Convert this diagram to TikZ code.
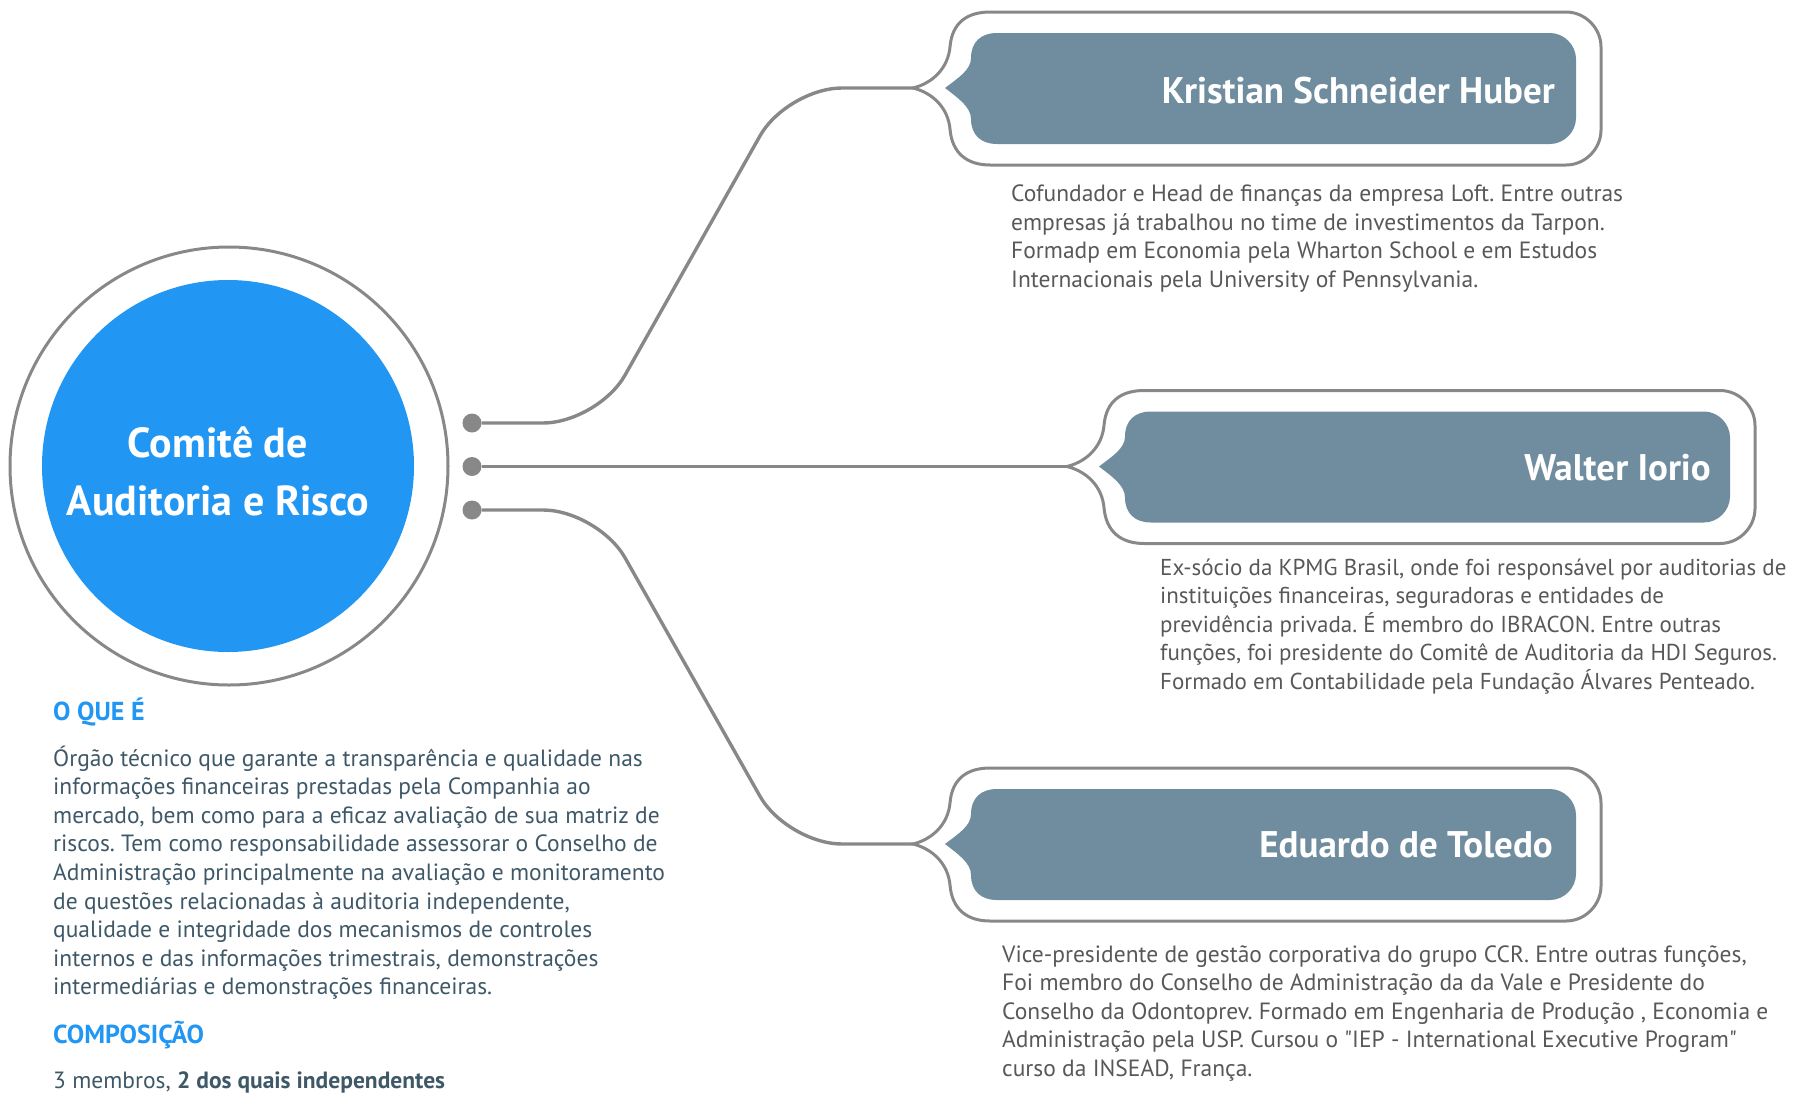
\documentclass[tikz,border=0pt]{standalone}
\usepackage{fontspec}
\setmainfont{PT Sans}[Ligatures=TeXOff]
\usetikzlibrary{positioning}
\frenchspacing

\definecolor{slate}{RGB}{112,141,160}
\definecolor{linegray}{RGB}{136,136,136}
\definecolor{brightblue}{RGB}{33,150,243}
\definecolor{inktext}{RGB}{62,88,104}
\definecolor{greytext}{RGB}{88,88,88}

\newcommand{\descsize}{\fontsize{23.5}{28.6}\selectfont}
\newcommand{\namesize}{\bfseries\fontsize{37}{42}\selectfont}
\newcommand{\titlesize}{\bfseries\fontsize{42}{58}\selectfont}
\newcommand{\headsize}{\bfseries\fontsize{26}{30}\selectfont}

\begin{document}
\begin{tikzpicture}[
    x=1pt, y=-1pt,
    ring/.style={draw=linegray, line width=3pt, circle, minimum size=438pt, inner sep=0pt},
    hub/.style={fill=brightblue, circle, minimum size=372pt, inner sep=0pt},
    title/.style={text=white, font=\titlesize, align=center, inner sep=0pt},
    dot/.style={circle, fill=linegray, minimum size=19pt, inner sep=0pt},
    conn/.style={draw=linegray, line width=3.4pt, rounded corners=55pt},
    person/.style={text=white, font=\namesize, inner sep=0pt, anchor=base east},
    desc/.style={text=greytext, font=\descsize, align=left, inner sep=0pt, anchor=base west},
    info/.style={text=inktext, font=\descsize, align=left, inner sep=0pt, anchor=base west},
    head/.style={text=brightblue, font=\headsize, inner sep=0pt, anchor=base west},
    pics/bubble/.style={code={
        \coordinate (-tip) at (0,0);
        \draw[linegray, line width=3pt]
            (0,0) .. controls (20,-5) and (35,-20) .. (37,-41)
            .. controls (39,-66) and (55,-76) .. (77,-76)
            -- (653,-76) .. controls (672,-76) and (688,-60) .. (688,-41)
            -- (688,42) .. controls (688,61) and (672,77) .. (653,77)
            -- (77,77) .. controls (55,77) and (39,66) .. (37,41)
            .. controls (35,20) and (20,5) .. (0,0) -- cycle;
        \fill[slate]
            (32,0) .. controls (45,-10) and (58,-18) .. (58,-30)
            .. controls (58,-46) and (68,-55) .. (84,-55)
            -- (637,-55) .. controls (651,-55) and (663,-43) .. (663,-29)
            -- (663,30) .. controls (663,44) and (651,56) .. (637,56)
            -- (84,56) .. controls (68,56) and (58,47) .. (58,31)
            .. controls (58,19) and (45,10) .. (32,0) -- cycle;
    }}
]
    \useasboundingbox (0,0) rectangle (1793,1093);

    % committee circle
    \node[ring] (ring) at (229,466) {};
    \node[hub] (hub) at (228,466) {};
    \node[title, anchor=base] (name) at (218,515) {Comitê de\\Auditoria e Risco};

    \node[dot] (d1) at (472,423) {};
    \node[dot] (d2) at (472,466.5) {};
    \node[dot] (d3) at (472,510) {};

    % member bubbles
    \pic (kb) at (913,88) {bubble};
    \pic (wb) at (1067,466.5) {bubble};
    \pic (eb) at (913,844) {bubble};

    \node[person] (kname) at (1555,103) {Kristian Schneider Huber};
    \node[person] (wname) at (1711,480) {Walter Iorio};
    \node[person] (ename) at (1553,857) {Eduardo de Toledo};

    \draw[conn] (d1) -- (598,423) -- (787,88) -- (kb-tip);
    \draw[conn] (d2) -- (wb-tip);
    \draw[conn] (d3) -- (598,510) -- (787,844) -- (eb-tip);

    \node[desc] (kdesc) at (1011,287.3) {Cofundador e Head de finanças da empresa Loft. Entre outras\\empresas já trabalhou no time de investimentos da Tarpon.\\Formadp em Economia pela Wharton School e em Estudos\\Internacionais pela University of Pennsylvania.};
    \node[desc, font=\fontsize{23}{28.6}\selectfont] (wdesc) at (1160,689.4) {Ex-sócio da KPMG Brasil, onde foi responsável por auditorias de\\instituições financeiras, seguradoras e entidades de\\previdência privada. É membro do IBRACON. Entre outras\\funções, foi presidente do Comitê de Auditoria da HDI Seguros.\\Formado em Contabilidade pela Fundação Álvares Penteado.};
    \node[desc] (edesc) at (1002,1076.4) {Vice-presidente de gestão corporativa do grupo CCR. Entre outras funções,\\Foi membro do Conselho de Administração da da Vale e Presidente do\\Conselho da Odontoprev. Formado em Engenharia de Produção , Economia e\\Administração pela USP. Cursou o "IEP - International Executive Program"\\curso da INSEAD, França.};

    % what it is
    \node[head] (whathead) at (53,720) {O QUE É};
    \node[info] (whattext) at (53,994.8) {Órgão técnico que garante a transparência e qualidade nas\\informações financeiras prestadas pela Companhia ao\\mercado, bem como para a eficaz avaliação de sua matriz de\\riscos. Tem como responsabilidade assessorar o Conselho de\\Administração principalmente na avaliação e monitoramento\\de questões relacionadas à auditoria independente,\\qualidade e integridade dos mecanismos de controles\\internos e das informações trimestrais, demonstrações\\intermediárias e demonstrações financeiras.};
    \node[head] (comphead) at (53,1043) {COMPOSIÇÃO};
    \node[info] (comptext) at (53,1088) {3 membros, {\bfseries 2 dos quais independentes}};
\end{tikzpicture}
\end{document}
